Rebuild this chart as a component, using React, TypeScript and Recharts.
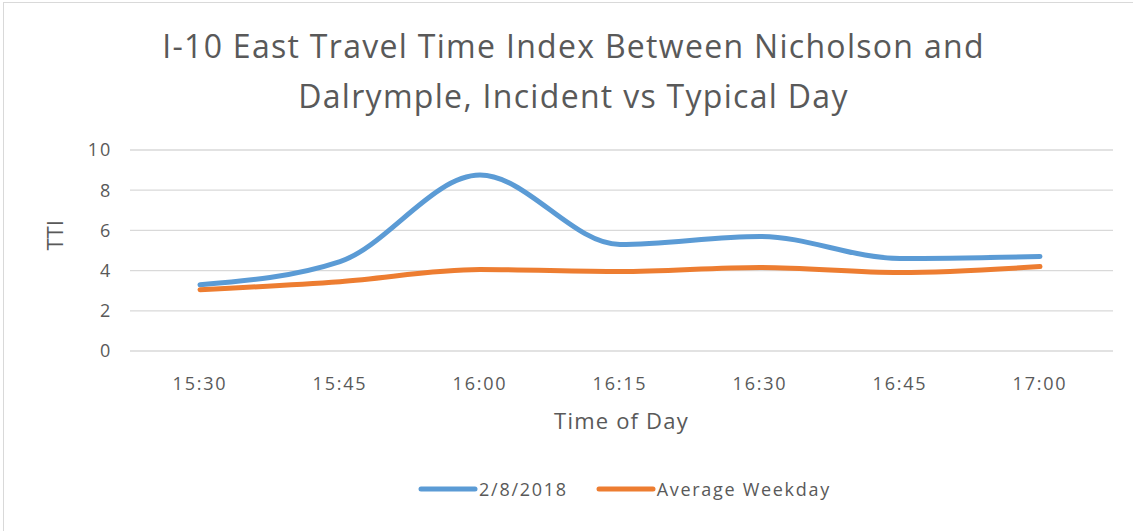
import { LineChart, Line, XAxis, YAxis, CartesianGrid, Legend } from 'recharts';

const times = ['15:30', '15:45', '16:00', '16:15', '16:30', '16:45', '17:00'];
const incidentDay = [3.3, 4.45, 8.75, 5.3, 5.7, 4.6, 4.7];
const averageWeekday = [3.05, 3.45, 4.05, 3.95, 4.15, 3.9, 4.2];
const yTicks = [0, 2, 4, 6, 8, 10];

const FONT = '"Open Sans", Lato, sans-serif';
const GREY = '#595959';
const BLUE = '#5B9BD5';
const ORANGE = '#ED7D31';

const seriesInfo = [
  { key: 'incident', name: '2/8/2018', color: BLUE },
  { key: 'average', name: 'Average Weekday', color: ORANGE },
];

function LegendBox() {
  return (
    <div
      style={{
        display: 'flex',
        justifyContent: 'center',
        height: 24,
        alignItems: 'center',
        paddingLeft: 136,
      }}
    >
      {seriesInfo.map((s, i) => (
        <div
          key={s.key}
          style={{ display: 'flex', alignItems: 'center', marginLeft: i === 0 ? 0 : 28 }}
        >
          <svg width={60} height={10} style={{ display: 'block' }}>
            <line x1={3} y1={5} x2={57} y2={5} stroke={s.color} strokeWidth={5} strokeLinecap="round" />
          </svg>
          <span
            style={{
              color: GREY,
              fontSize: 18,
              fontFamily: FONT,
              letterSpacing: 1.7,
              marginLeft: 1,
            }}
          >
            {s.name}
          </span>
        </div>
      ))}
    </div>
  );
}

export default function App() {
  const data = times.map((t, i) => ({
    time: t,
    incident: incidentDay[i],
    average: averageWeekday[i],
  }));

  const tickStyle = { fill: GREY, fontSize: 18, fontFamily: FONT, style: { letterSpacing: '1.8px' } };

  return (
    <div
      style={{
        position: 'absolute',
        left: 0,
        top: 0,
        width: 1133,
        height: 531,
        background: '#fff',
        fontFamily: FONT,
      }}
    >
      <div
        style={{
          position: 'absolute',
          left: 3,
          top: 2,
          right: 0,
          bottom: 0,
          borderTop: '1px solid #d9d9d9',
          borderLeft: '1px solid #d9d9d9',
        }}
      />
      <div
        style={{
          position: 'absolute',
          left: 0,
          width: 1147,
          top: 21,
          textAlign: 'center',
          color: GREY,
          fontSize: 32,
          lineHeight: '50px',
          letterSpacing: 1.3,
        }}
      >
        I-10 East Travel Time Index Between Nicholson and
        <br />
        Dalrymple, Incident vs Typical Day
      </div>
      <div style={{ position: 'absolute', left: 0, top: 0 }}>
        <LineChart
          width={1133}
          height={531}
          data={data}
          margin={{ top: 150, right: 20, bottom: 30, left: 0 }}
        >
          <CartesianGrid vertical={false} stroke="#d9d9d9" strokeWidth={1.3} />
          <XAxis
            dataKey="time"
            axisLine={false}
            tickLine={false}
            padding={{ left: 70, right: 73 }}
            tick={tickStyle}
            tickMargin={20}
            height={126}
            label={{
              value: 'Time of Day',
              position: 'insideBottom',
              offset: 48,
              fill: GREY,
              fontSize: 22,
              fontFamily: FONT,
              style: { letterSpacing: '1.2px' },
            }}
          />
          <YAxis
            domain={[0, 10]}
            ticks={yTicks}
            axisLine={false}
            tickLine={false}
            width={130}
            tickMargin={12}
            tick={tickStyle}
            label={{
              value: 'TTI',
              angle: -90,
              position: 'insideLeft',
              offset: 55,
              fill: GREY,
              fontSize: 22,
              fontFamily: FONT,
            }}
          />
          <Legend verticalAlign="bottom" content={() => <LegendBox />} />
          <Line
            type="monotone"
            dataKey="incident"
            name="2/8/2018"
            stroke={BLUE}
            strokeWidth={5}
            strokeLinecap="round"
            dot={false}
            isAnimationActive={false}
          />
          <Line
            type="monotone"
            dataKey="average"
            name="Average Weekday"
            stroke={ORANGE}
            strokeWidth={5}
            strokeLinecap="round"
            dot={false}
            isAnimationActive={false}
          />
        </LineChart>
      </div>
    </div>
  );
}
